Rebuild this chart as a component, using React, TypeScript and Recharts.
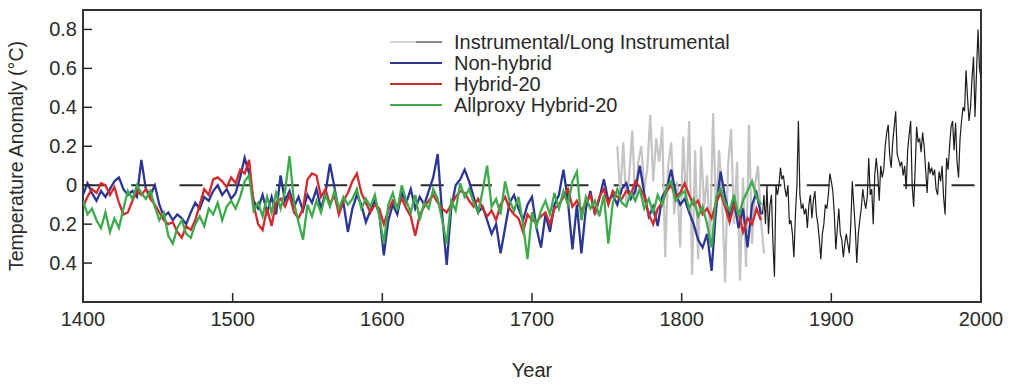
import { LineChart, Line, XAxis, YAxis, ReferenceArea, Legend } from 'recharts'

// reconstructions, one value every 3 years from 1400
const reconStart = 1400
const reconStep = 3

const nonHybrid = [
  -0.05, 0.01, -0.04, -0.08, -0.03, -0.06, -0.02, 0.02, 0.04, -0.02, -0.05, -0.03, -0.06, 0.13, -0.02, -0.05, 0.0,
  -0.1, -0.16, -0.14, -0.18, -0.15, -0.17, -0.2, -0.14, -0.09, -0.12, -0.06, -0.08, -0.03, 0.0, -0.05, -0.02, -0.07, -0.04,
  0.04, 0.14, 0.06, -0.08, -0.12, -0.05, -0.14, -0.06, -0.15, 0.05, -0.08, -0.03, -0.11, -0.06, -0.13, -0.05, -0.09,
  -0.02, -0.12, -0.04, 0.11, -0.01, -0.14, -0.09, -0.24, -0.12, -0.05, -0.1, -0.19, -0.13, -0.08, -0.15,
  -0.36, -0.18, -0.1, -0.15, -0.04, -0.09, -0.02, -0.12, -0.06, -0.1, -0.03, 0.04, 0.16, -0.15, -0.41, -0.12, 0.0,
  0.03, 0.08, 0.02, -0.06, -0.14, -0.11, -0.18, -0.25, -0.2, -0.35, -0.22, -0.09, -0.05, -0.12, -0.18, -0.1, -0.06,
  -0.22, -0.32, -0.15, -0.24, -0.1, -0.05, 0.08, -0.08, -0.33, -0.1, -0.35, -0.12, -0.03, -0.15, -0.07, 0.03, -0.08,
  -0.05, -0.1, -0.02, 0.01, -0.07, -0.03, 0.1, -0.04, -0.16, -0.11, -0.21, -0.06, -0.02, 0.08, -0.04, -0.1,
  -0.07, -0.14, -0.2, -0.28, -0.32, -0.25, -0.44, -0.12, 0.07, -0.06, -0.16, -0.08, -0.22, -0.12, -0.32, -0.1, -0.04, -0.15,
]

const hybrid20 = [
  -0.11, -0.06, -0.02, -0.04, 0.01, 0.0, -0.05, -0.01, -0.09, -0.15, -0.14, -0.08, -0.03, -0.05, -0.02, -0.07, -0.1,
  -0.14, -0.18, -0.2, -0.19, -0.24, -0.27, -0.21, -0.23, -0.18, -0.1, -0.02, -0.05, 0.03, 0.04, 0.02, -0.01, 0.04, 0.01,
  0.08, 0.06, 0.13, -0.1, -0.2, -0.23, -0.12, -0.21, -0.09, -0.07, -0.11, -0.05, -0.14, -0.17, -0.12, 0.03, 0.06,
  0.05, -0.06, -0.02, -0.1, -0.05, -0.15, -0.08, -0.04, 0.02, 0.06, -0.04, -0.09, -0.14, -0.1, -0.12,
  -0.2, -0.13, -0.08, -0.11, -0.07, -0.12, -0.16, -0.26, -0.15, -0.11, -0.08, -0.05, -0.09, -0.12, -0.14, -0.1, -0.06,
  -0.03, -0.04, -0.08, -0.11, -0.07, -0.12, -0.16, -0.13, -0.18, -0.1, -0.06, -0.12, -0.15, -0.17, -0.24, -0.15, -0.18,
  -0.19, -0.16, -0.14, -0.2, -0.12, -0.1, -0.06, -0.02, -0.11, -0.08, -0.13, -0.09, -0.05, -0.14, -0.06, -0.02, -0.1,
  -0.03, -0.06, -0.07, -0.03, -0.05, 0.02, -0.01, -0.06, -0.15, -0.2, -0.12, -0.09, -0.03, 0.0, -0.06, -0.04,
  0.01, -0.05, -0.1, -0.08, -0.15, -0.12, -0.17, -0.09, -0.04, -0.11, -0.19, -0.1, -0.14, -0.24, -0.17, -0.2, -0.12, -0.18,
]

const allproxyHybrid20 = [
  -0.08, -0.15, -0.12, -0.18, -0.22, -0.14, -0.24, -0.17, -0.22, -0.12, -0.03, -0.07, 0.0, -0.04, -0.07, -0.03, -0.11,
  -0.18, -0.14, -0.26, -0.3, -0.22, -0.18, -0.25, -0.27, -0.2, -0.16, -0.21, -0.12, -0.15, -0.09, -0.18, -0.11, -0.08, -0.12,
  -0.06, 0.02, 0.05, -0.13, -0.09, -0.16, -0.06, -0.14, -0.04, -0.12, -0.03, 0.15, -0.09, -0.19, -0.28, -0.1, -0.16,
  -0.08, -0.14, -0.05, -0.11, -0.03, -0.12, -0.06, -0.1, -0.07, -0.02, -0.12, -0.07, -0.11, -0.05, -0.16,
  -0.3, -0.1, -0.04, -0.13, 0.0, -0.08, -0.14, -0.05, -0.18, -0.09, -0.12, -0.02, -0.07, -0.18, -0.3, -0.08, -0.13,
  0.01, -0.06, -0.02, -0.09, -0.14, -0.03, 0.1, -0.11, -0.07, -0.15, 0.02, -0.08, -0.13, -0.06, -0.2, -0.38, -0.14,
  -0.21, -0.13, -0.08, -0.15, -0.04, -0.12, -0.03, -0.1, 0.02, 0.07, -0.18, -0.06, -0.12, -0.08, -0.16, -0.05, -0.3,
  -0.09, -0.02, -0.09, -0.11, -0.04, -0.08, -0.02, -0.12, -0.07, -0.14, -0.05, -0.1, -0.01, 0.02, -0.08, -0.05,
  -0.03, -0.12, -0.07, -0.16, -0.11, -0.2, -0.32, -0.06, -0.02, -0.09, -0.13, -0.05, -0.16, -0.08, -0.03, 0.02, -0.06, -0.1,
]

// long instrumental (grey), every 2 years from 1757
const longInstStart = 1757
const longInstStep = 2
const longInstrumental = [
  0.2, -0.05, 0.22, -0.1, 0.05, 0.28, -0.08, 0.12, 0.2, -0.02, 0.08, 0.36, 0.02, 0.24, 0.12, 0.3, -0.37,
  0.1, 0.22, -0.15, 0.02, -0.32, 0.25, -0.1, 0.33, -0.46, 0.18, -0.38, 0.2, -0.12, 0.05, -0.3, 0.37,
  -0.15, 0.18, -0.05, -0.5, 0.1, 0.29, -0.2, 0.12, -0.49, 0.04, -0.42, 0.31, -0.3, 0.0, 0.1, -0.18, -0.35,
]

// instrumental (black), yearly from 1854
const instStart = 1854
const instrumental = [
  -0.15, -0.05, -0.2, 0.0, -0.25, -0.1, -0.05, -0.3, -0.47, 0.0, -0.05, 0.0, 0.09, 0.03, 0.05, -0.02,
  -0.06, 0.0, -0.2, -0.18, -0.25, -0.37, -0.15, 0.0, 0.33, -0.05, -0.12, -0.1, -0.15, -0.12, -0.22, -0.1,
  -0.05, -0.17, -0.08, -0.03, -0.15, -0.2, -0.28, -0.38, -0.25, -0.2, -0.1, -0.12, -0.05, 0.06,
  0.02, -0.03, -0.15, -0.33, -0.22, -0.12, -0.25, -0.28, -0.37, -0.3, -0.25, -0.3, -0.35, -0.2, 0.02, -0.1,
  -0.22, -0.4, -0.25, -0.18, -0.12, -0.02, -0.08, -0.12, -0.06, 0.14, -0.05, -0.02, -0.2, 0.05,
  0.14, 0.06, -0.08, 0.1, 0.04, 0.08, 0.2, 0.27, 0.31, 0.15, 0.09, 0.22, 0.3, 0.38, 0.16, 0.13, 0.1, 0.12, 0.05, 0.1,
  -0.02, 0.18, 0.26, 0.33, 0.0, -0.11, 0.08, 0.3, 0.22, 0.24, 0.17, 0.27, 0.2, 0.08, -0.04, 0.12, 0.06, 0.09, 0.05, 0.08,
  -0.02, -0.05, 0.07, 0.02, 0.1, -0.06, -0.15, 0.14, 0.08, 0.2, 0.3, 0.33, 0.18, 0.32, 0.12, 0.04, 0.24, 0.33, 0.4, 0.38,
  0.59, 0.45, 0.33, 0.4, 0.55, 0.66, 0.35, 0.58, 0.8, 0.6, 0.55,
]

const xTicks = [1400, 1500, 1600, 1700, 1800, 1900, 2000]
const yTicks = [-0.4, -0.2, 0, 0.2, 0.4, 0.6, 0.8]

const toPoints = (start: number, step: number, values: number[]) =>
  values.map((v, i) => ({ year: start + i * step, v }))

const reconBlue = toPoints(reconStart, reconStep, nonHybrid)
const reconRed = toPoints(reconStart, reconStep, hybrid20)
const reconGreen = toPoints(reconStart, reconStep, allproxyHybrid20)
const greyData = toPoints(longInstStart, longInstStep, longInstrumental)
const blackData = toPoints(instStart, 1, instrumental)
const zeroData = [{ year: 1400, v: 0 }, { year: 2000, v: 0 }]

const FONT = '"Liberation Sans", Arial, Helvetica, sans-serif'
const INK = '#2a2a2a'

const XTick = (props: any) => {
  const { x, y, payload } = props
  return (
    <g>
      <line x1={x} x2={x} y1={y} y2={y - 9} stroke={INK} strokeWidth={1.5} />
      <text x={x} y={y + 24} textAnchor="middle" fontSize={20} fontFamily={FONT} fill={INK}>
        {payload.value}
      </text>
    </g>
  )
}

const YTick = (props: any) => {
  const { x, y, payload } = props
  const v = payload.value
  const label = v === 0 ? '0' : Math.abs(v).toFixed(1)
  return (
    <g>
      <line x1={x} x2={x + 9} y1={y} y2={y} stroke={INK} strokeWidth={1.5} />
      <text x={x - 6} y={y + 7} textAnchor="end" fontSize={20} fontFamily={FONT} fill={INK}>
        {label}
      </text>
    </g>
  )
}

const renderLegend = () => (
  <svg width={380} height={100} style={{ display: 'block' }}>
    <line x1={10} x2={36} y1={22} y2={22} stroke="#d4d4d4" strokeWidth={2} />
    <line x1={36} x2={62} y1={22} y2={22} stroke="#8c8c8c" strokeWidth={2} />
    <line x1={10} x2={62} y1={43} y2={43} stroke="#2b3593" strokeWidth={2} />
    <line x1={10} x2={62} y1={64} y2={64} stroke="#d32a2e" strokeWidth={2} />
    <line x1={10} x2={62} y1={85} y2={85} stroke="#3eaa4c" strokeWidth={2} />
    <g fontSize={20} fontFamily={FONT} fill={INK}>
      <text x={74} y={29}>Instrumental/Long Instrumental</text>
      <text x={74} y={50}>Non-hybrid</text>
      <text x={74} y={71}>Hybrid-20</text>
      <text x={74} y={92}>Allproxy Hybrid-20</text>
    </g>
  </svg>
)

export default function App() {
  return (
    <div style={{ position: 'absolute', left: 0, top: 0, background: '#fff' }}>
      <LineChart width={1034} height={388} margin={{ top: 10, right: 53, bottom: 0, left: 0 }}>
        <XAxis
          dataKey="year"
          type="number"
          domain={[1400, 2000]}
          ticks={xTicks}
          allowDataOverflow
          height={86}
          tickSize={0}
          tickMargin={0}
          axisLine={false}
          tickLine={false}
          tick={XTick}
          label={{
            content: (p: any) => {
              const vb = p.viewBox
              return (
                <text x={vb.x + vb.width / 2} y={vb.y + 75} textAnchor="middle" fontSize={20} fontFamily={FONT} fill={INK}>
                  Year
                </text>
              )
            },
          }}
        />
        <YAxis
          type="number"
          domain={[-0.6, 0.9]}
          ticks={yTicks}
          allowDataOverflow
          width={83}
          tickSize={0}
          tickMargin={0}
          axisLine={false}
          tickLine={false}
          tick={YTick}
          label={{
            content: (p: any) => {
              const vb = p.viewBox
              const cx = 23
              const cy = vb.y + vb.height / 2
              return (
                <text x={cx} y={cy} transform={`rotate(-90, ${cx}, ${cy})`} textAnchor="middle" fontSize={19.5} fontFamily={FONT} fill={INK}>
                  Temperature Anomaly (°C)
                </text>
              )
            },
          }}
        />
        <Legend
          layout="vertical"
          align="center"
          verticalAlign="middle"
          content={renderLegend}
          wrapperStyle={{ position: 'absolute', left: 380, top: 20, width: 380, height: 100 }}
        />
        <Line data={zeroData} dataKey="v" stroke={INK} strokeWidth={2} strokeDasharray="23 25.25" dot={false} isAnimationActive={false} legendType="none" />
        <Line data={greyData} dataKey="v" stroke="#c4c4c4" strokeWidth={2.2} dot={false} isAnimationActive={false} />
        <Line data={reconBlue} dataKey="v" stroke="#2b3593" strokeWidth={2.3} dot={false} isAnimationActive={false} />
        <Line data={reconRed} dataKey="v" stroke="#d32a2e" strokeWidth={2.3} dot={false} isAnimationActive={false} />
        <Line data={reconGreen} dataKey="v" stroke="#3eaa4c" strokeWidth={2.3} dot={false} isAnimationActive={false} />
        <Line data={blackData} dataKey="v" stroke="#1e1e1e" strokeWidth={1.2} dot={false} isAnimationActive={false} />
        <ReferenceArea x1={1400} x2={2000} y1={-0.6} y2={0.9} fill="none" stroke="#333" strokeWidth={2} ifOverflow="visible" />
      </LineChart>
    </div>
  )
}
